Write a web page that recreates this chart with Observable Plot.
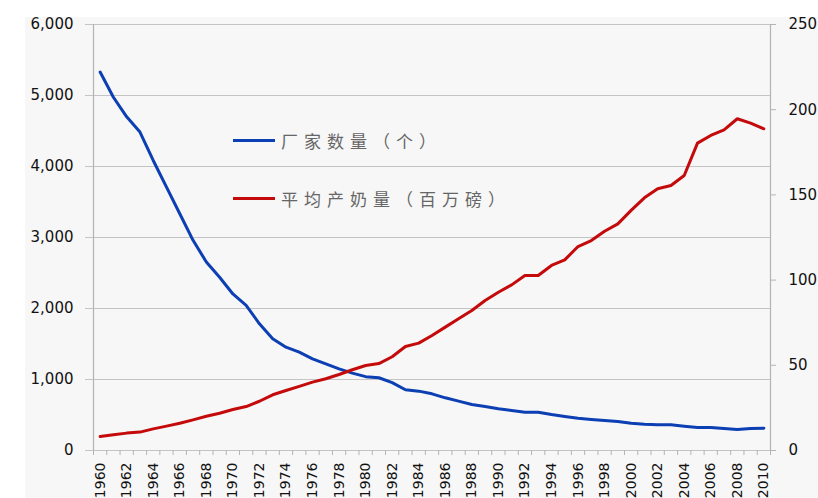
<!DOCTYPE html>
<html><head><meta charset="utf-8">
<script src="https://cdn.jsdelivr.net/npm/d3@7"></script>
<script src="https://cdn.jsdelivr.net/npm/@observablehq/plot@0.6"></script>
<style>
body{margin:0;background:#fff;}
#wrap{position:relative;width:818px;height:498px;overflow:hidden;}
#bg{position:absolute;left:25px;top:17px;right:0;bottom:0;background:#f7f7f7;}
#chart{position:absolute;left:0;top:0;}
.legend{position:absolute;left:233px;height:20px;display:flex;align-items:center;font-family:"Noto Sans CJK SC";font-size:17px;color:#666;letter-spacing:6px;white-space:nowrap;}
.legend .sw{display:inline-block;width:42px;height:3px;margin-right:6px;}
</style></head>
<body>
<div id="wrap"><div id="bg"></div><div id="chart"></div></div>
<script>
const years = [1960,1961,1962,1963,1964,1965,1966,1967,1968,1969,
  1970,1971,1972,1973,1974,1975,1976,1977,1978,1979,
  1980,1981,1982,1983,1984,1985,1986,1987,1988,1989,
  1990,1991,1992,1993,1994,1995,1996,1997,1998,1999,
  2000,2001,2002,2003,2004,2005,2006,2007,2008,2009,2010];
// 厂家数量（个） — left axis
const farms = [5330,4975,4700,4485,4085,3710,3335,2960,2655,2440,
  2205,2045,1785,1575,1455,1385,1290,1220,1150,1090,
  1040,1025,955,855,836,798,742,695,648,620,
  587,563,540,540,507,479,455,437,423,408,
  385,371,362,362,343,324,324,310,296,310,315];
// 平均产奶量（百万磅） — right axis
const milk = [8.2,9.2,10.2,10.8,12.7,14.3,16.0,18.0,20.1,21.9,
  24.1,25.8,28.9,32.7,35.2,37.6,40.1,42.1,44.6,47.4,
  49.9,51.0,55.0,61.0,63.0,67.5,72.4,77.3,82.2,88.0,
  92.9,97.2,102.7,102.7,108.6,111.9,119.7,123.2,128.7,133.0,
  140.9,148.3,153.6,155.5,161.4,180.4,184.9,188.2,194.7,192.1,188.8];
const leftTicks = [0,1000,2000,3000,4000,5000,6000];
const rightTicks = [0,50,100,150,200,250];
const xLabelYears = [1960,1962,1964,1966,1968,1970,1972,1974,1976,1978,1980,1982,1984,1986,1988,1990,1992,1994,1996,1998,2000,2002,2004,2006,2008,2010];
const seriesNames = ["厂家数量（个）","平均产奶量（百万磅）"];
const seriesColors = ["#0b3fb3","#c40a0a"];

const leftMax = leftTicks[leftTicks.length-1];
const rightMax = rightTicks[rightTicks.length-1];
const k = leftMax / rightMax;
const table = years.map((yr,i)=>({year:yr, farms:farms[i], milk:milk[i]*k}));
const xDom = [years[0]-0.5, years[years.length-1]+0.5];
const bounds = years.map(y=>y-0.5).concat([years[years.length-1]+0.5]);

const plot = Plot.plot({
  width:818, height:498,
  marginLeft:93, marginRight:48, marginTop:24, marginBottom:48,
  style:{background:"transparent", fontFamily:"DejaVu Sans", fontSize:"14px", color:"#111", overflow:"visible"},
  x:{type:"linear", domain:xDom, label:null},
  y:{domain:[0,leftMax], label:null},
  marks:[
    Plot.ruleY(leftTicks, {stroke:"#c4c4c4", strokeWidth:1.2}),
    Plot.ruleX(xDom, {stroke:"#b4b4b4", strokeWidth:1.2}),
    Plot.axisY({anchor:"left", ticks:leftTicks, tickSize:8, tickPadding:12, stroke:"#c4c4c4", tickFormat:d3.format(","), fontSize:15, label:null}),
    Plot.axisY({anchor:"right", ticks:rightTicks.map(d=>d*k), tickSize:5, tickPadding:13, stroke:"#b4b4b4", tickFormat:d=>String(Math.round(d/k)), fontSize:15, label:null}),
    Plot.axisX({ticks:bounds, tickSize:5, stroke:"#b4b4b4", tickFormat:()=>"", label:null}),
    Plot.axisX({ticks:xLabelYears, tickSize:0, tickPadding:12, tickRotate:-90, tickFormat:d=>String(d), fontSize:14, label:null}),
    Plot.line(table, {x:"year", y:"farms", stroke:seriesColors[0], strokeWidth:3}),
    Plot.line(table, {x:"year", y:"milk", stroke:seriesColors[1], strokeWidth:3})
  ]
});
document.getElementById("chart").appendChild(plot);

const wrap = document.getElementById("wrap");
const legendTops = [130, 188];
seriesNames.forEach((name,i)=>{
  const row = document.createElement("div");
  row.className = "legend";
  row.style.top = legendTops[i] + "px";
  const sw = document.createElement("span");
  sw.className = "sw";
  sw.style.background = seriesColors[i];
  const t = document.createElement("span");
  t.textContent = name;
  row.appendChild(sw); row.appendChild(t);
  wrap.appendChild(row);
});
</script>
</body></html>
